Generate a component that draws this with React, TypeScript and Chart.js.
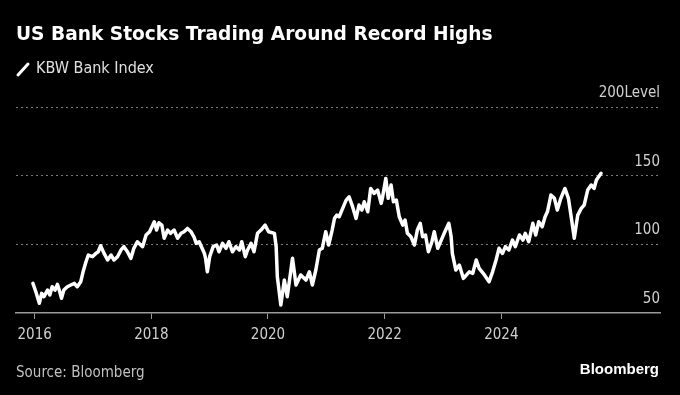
import React, { useEffect, useRef } from "react";
import { Chart, registerables } from "chart.js";

Chart.register(...registerables);

// decimal-year dates and KBW Bank Index levels
const dates = [
  2015.97, 2016.02, 2016.08, 2016.12, 2016.16, 2016.22, 2016.26, 2016.3, 2016.35, 2016.39,
  2016.43, 2016.46, 2016.5, 2016.56, 2016.62, 2016.68, 2016.73, 2016.79, 2016.83, 2016.88,
  2016.92, 2016.99, 2017.05, 2017.09, 2017.13, 2017.19, 2017.25, 2017.31, 2017.36, 2017.42,
  2017.48, 2017.53, 2017.59, 2017.65, 2017.7, 2017.76, 2017.85, 2017.91, 2017.97, 2018.05,
  2018.09, 2018.13, 2018.18, 2018.22, 2018.28, 2018.33, 2018.39, 2018.45, 2018.51, 2018.56,
  2018.62, 2018.68, 2018.73, 2018.77, 2018.82, 2018.87, 2018.91, 2018.93, 2018.96, 2019.0,
  2019.06, 2019.12, 2019.16, 2019.22, 2019.28, 2019.33, 2019.39, 2019.45, 2019.51, 2019.55,
  2019.61, 2019.65, 2019.71, 2019.76, 2019.82, 2019.88, 2019.95, 2020.01, 2020.11, 2020.14,
  2020.16, 2020.22, 2020.28, 2020.33, 2020.42, 2020.48, 2020.56, 2020.65, 2020.71, 2020.76,
  2020.82, 2020.88, 2020.93, 2020.99, 2021.04, 2021.1, 2021.14, 2021.18, 2021.22, 2021.28,
  2021.34, 2021.39, 2021.45, 2021.51, 2021.56, 2021.61, 2021.65, 2021.71, 2021.76, 2021.82,
  2021.88, 2021.94, 2021.96, 2022.02, 2022.06, 2022.11, 2022.15, 2022.2, 2022.25, 2022.31,
  2022.35, 2022.39, 2022.45, 2022.51, 2022.56, 2022.61, 2022.65, 2022.7, 2022.75, 2022.81,
  2022.85, 2022.91, 2022.97, 2023.02, 2023.1, 2023.14, 2023.16, 2023.22, 2023.28, 2023.35,
  2023.45, 2023.51, 2023.57, 2023.62, 2023.71, 2023.79, 2023.85, 2023.91, 2023.96, 2024.02,
  2024.07, 2024.13, 2024.19, 2024.24, 2024.31, 2024.37, 2024.41, 2024.47, 2024.54, 2024.59,
  2024.64, 2024.7, 2024.75, 2024.79, 2024.85, 2024.91, 2024.96, 2025.02, 2025.09, 2025.15,
  2025.21, 2025.25, 2025.31, 2025.37, 2025.42, 2025.48, 2025.54, 2025.59, 2025.63, 2025.71,
];

const values = [
  71.6, 65.5, 57.1, 64.3, 61.9, 66.7, 63.1, 69.1, 66.7, 70.9,
  65.5, 60.7, 66.7, 69.1, 70.4, 71.6, 69.1, 72.8, 80, 87.3,
  92.2, 91, 93.4, 94.6, 99, 93.4, 88.6, 92.2, 88.6, 91,
  95.9, 98.3, 94.6, 89.8, 97.1, 101.9, 98.3, 106.8, 109.2, 116.4,
  110.4, 115.7, 114, 104.4, 110.4, 108, 110.4, 104.4, 108, 109.2,
  111.6, 109.2, 105.5, 100.7, 101.9, 97.1, 93.4, 89.8, 80, 91,
  98.3, 99.5, 94.6, 100.7, 97.1, 101.9, 94.6, 98.3, 95.9, 101.9,
  91, 95.9, 100.7, 94.6, 108, 110.4, 114, 109.2, 108, 98.3,
  76.4, 55.8, 74, 61.9, 89.8, 70.4, 77.7, 74, 80, 70.4,
  81.3, 95.9, 97.1, 109.2, 99.5, 110.4, 118.9, 121.3, 120.1, 126.2,
  132.2, 134.6, 127.4, 118.9, 128.6, 125, 131, 123.7, 140.7, 137.1,
  139.5, 129.8, 133.5, 148, 133.5, 143.2, 131, 132.2, 120.1, 114,
  117.7, 108, 105.5, 99.5, 110.4, 115.3, 105.5, 106.8, 94.6, 101.9,
  109.2, 97.1, 103.1, 108, 115.3, 105.5, 93.4, 81.3, 84.9, 75.2,
  80, 78.9, 88.6, 82.5, 77.7, 72.8, 80, 88.6, 97.1, 93.4,
  98.3, 95.9, 103.1, 98.3, 106.8, 103.1, 108, 101.9, 115.3, 106.8,
  116.4, 112.8, 120.1, 123.7, 135.9, 133.5, 125, 133.5, 140.7, 133.5,
  116.4, 104.4, 121.3, 126.2, 128.6, 139.5, 143.2, 140.7, 146.8, 151.7,
];

const xTickYears = [2016, 2018, 2020, 2022, 2024];
const yTickLevels = [50, 100, 150, 200];

const LABEL_FONT = '"DejaVu Sans Condensed", "DejaVu Sans", sans-serif';

export default function App() {
  const canvasRef = useRef<HTMLCanvasElement>(null);

  useEffect(() => {
    document.body.style.margin = "0";
    document.body.style.background = "#000";
    const canvas = canvasRef.current;
    if (!canvas) return;
    const chart = new Chart(canvas, {
      type: "line",
      data: {
        datasets: [
          {
            label: "KBW Bank Index",
            data: dates.map((d, i) => ({ x: d, y: values[i] })),
            borderColor: "#ffffff",
            borderWidth: 3.5,
            pointRadius: 0,
            tension: 0,
            borderJoinStyle: "round",
            borderCapStyle: "round",
          },
        ],
      },
      options: {
        animation: false,
        responsive: false,
        devicePixelRatio: 1,
        layout: { padding: { left: 16, right: 20, top: 107, bottom: 52 } },
        plugins: { legend: { display: false }, tooltip: { enabled: false } },
        scales: {
          x: {
            type: "linear",
            min: 2015.68,
            max: 2026.72,
            afterBuildTicks: (s: any) => {
              s.ticks = xTickYears.map((v) => ({ value: v }));
            },
            afterFit: (s: any) => {
              s.height = 30;
            },
            grid: {
              display: true,
              drawOnChartArea: false,
              drawTicks: true,
              tickLength: 6,
              color: "#9a9a9a",
              lineWidth: 1,
            },
            border: { display: true, color: "#9a9a9a", width: 1.5 },
            ticks: {
              color: "#d0d0d0",
              font: { family: LABEL_FONT, size: 15 },
              padding: 7,
              maxRotation: 0,
              autoSkip: false,
              callback: (v: any) => String(v),
            },
          },
          y: {
            position: "right",
            min: 50,
            max: 200,
            afterBuildTicks: (s: any) => {
              s.ticks = yTickLevels.map((v) => ({ value: v }));
            },
            afterFit: (s: any) => {
              s.width = 0;
            },
            grid: {
              color: (c: any) => (c.tick && c.tick.value === 50 ? "rgba(0,0,0,0)" : "#7a7a7a"),
              drawTicks: false,
              lineWidth: 1,
            },
            border: { display: false, dash: [2, 3] },
            ticks: {
              mirror: true,
              padding: 0,
              labelOffset: -14,
              color: "#d0d0d0",
              font: { family: LABEL_FONT, size: 15 },
              callback: (v: any) => (v === 200 ? "200Level" : String(v)),
            },
          },
        },
      },
    } as any);
    return () => chart.destroy();
  }, []);

  return (
    <div style={{ position: "relative", width: 680, height: 395, background: "#000", overflow: "hidden" }}>
      <canvas ref={canvasRef} width={680} height={395} style={{ position: "absolute", left: 0, top: 0 }} />
      <div
        style={{
          position: "absolute",
          left: 16,
          top: 23,
          fontFamily: '"DejaVu Sans", sans-serif',
          fontWeight: 700,
          fontSize: 18.6,
          lineHeight: "22px",
          color: "#fff",
          whiteSpace: "nowrap",
        }}
      >
        US Bank Stocks Trading Around Record Highs
      </div>
      <div style={{ position: "absolute", left: 14, top: 59, width: 20, height: 20 }}>
        <svg width={20} height={20}>
          <line x1={4} y1={16} x2={14} y2={5} stroke="#fff" strokeWidth={3} strokeLinecap="round" />
        </svg>
      </div>
      <div
        style={{
          position: "absolute",
          left: 36,
          top: 58,
          fontFamily: LABEL_FONT,
          fontSize: 16,
          lineHeight: "19px",
          color: "#e0e0e0",
          whiteSpace: "nowrap",
        }}
      >
        KBW Bank Index
      </div>
      <div
        style={{
          position: "absolute",
          left: 16,
          top: 363,
          fontFamily: LABEL_FONT,
          fontSize: 15,
          lineHeight: "18px",
          color: "#c0c0c0",
          whiteSpace: "nowrap",
        }}
      >
        Source: Bloomberg
      </div>
      <div
        style={{
          position: "absolute",
          right: 21,
          top: 360,
          fontFamily: '"Liberation Sans", Arial, sans-serif',
          fontWeight: 700,
          fontSize: 15,
          lineHeight: "18px",
          color: "#fff",
          whiteSpace: "nowrap",
        }}
      >
        Bloomberg
      </div>
    </div>
  );
}
